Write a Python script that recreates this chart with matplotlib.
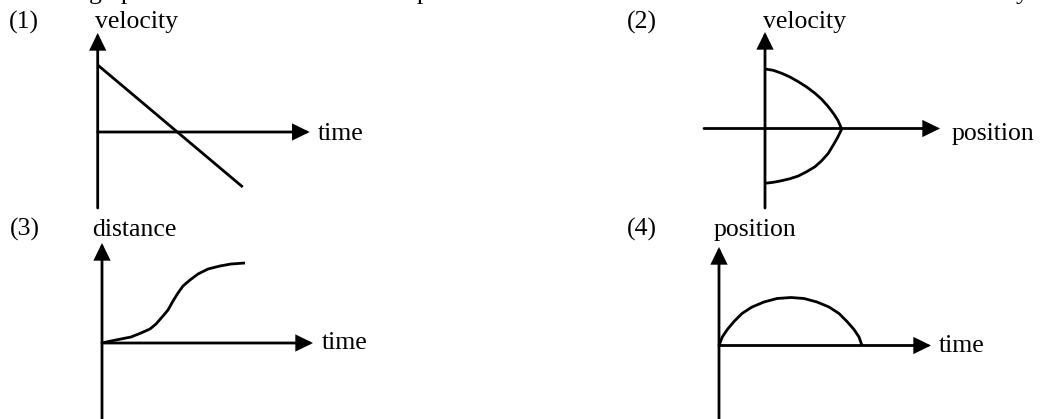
import matplotlib
matplotlib.use("Agg")
import matplotlib.pyplot as plt

plt.rcParams['font.family'] = ['Liberation Serif', 'DejaVu Serif']

W, H = 1040, 419
FS = 18.5
LW = 2.0

# ---- data (units relative to each panel's axis origin) ----
# (1) velocity vs time : straight line
p1_time = [0, 145]
p1_velocity = [67, -55]

# (2) velocity vs position
p2_pos_upper = [0, 8.3, 16.7, 25, 33.3, 41.7, 50, 56.7, 63.3, 68.3, 72.7, 76.7]
p2_vel_upper = [59.5, 58.2, 55.2, 51.5, 46.8, 41.5, 35.2, 29.2, 21.8, 15.2, 8.5, -0.5]
p2_pos_lower = [76.7, 72.7, 68.3, 63.3, 56.7, 50, 41.7, 33.3, 25, 16.7, 8.3, 0]
p2_vel_lower = [-0.5, -8.8, -16.5, -24.8, -32.2, -38.2, -43.2, -47.5, -50.2, -52.2, -53.8, -54.8]

# (3) distance vs time : S-curve
p3_time = [0, 9, 19, 29, 39, 48, 54, 61, 66, 71, 76, 81, 88, 96, 106, 118, 129, 143]
p3_distance = [0, 2, 4, 6, 10, 14, 19, 27, 33, 42, 50, 57, 63, 69, 74, 77, 79, 80]

# (4) position vs time : arch
p4_time = [0, 3.3, 8.3, 15, 23, 33, 45, 58, 72, 85, 98, 110, 120, 128, 135, 140, 143]
p4_position = [0, 8.5, 16, 24, 32, 38.5, 43.5, 47, 48, 47, 43.5, 38.5, 32, 24, 16, 8.5, 0]

panel_tags = ["(1)", "(2)", "(3)", "(4)"]
y_labels = ["velocity", "velocity", "distance", "position"]
x_labels = ["time", "position", "time", "time"]

# ---- layout (pixel positions of each panel's origin, axis extents) ----
origins = [(97.7, 132.0), (765.0, 128.5), (102.0, 343.0), (719.0, 345.5)]
x_axis_ext = [(0, 212), (-61, 175), (0, 211), (0, 212)]
y_axis_ext = [(-76, 99), (-79.5, 96.5), (-78, 100), (-75, 98.5)]
tag_pos = [(-88.7, 103.5), (-138, 100), (-92, 107), (-92, 109.5)]
ylab_pos = [(-2.7, 103.5), (-2, 100), (-10, 107), (-5, 109.5)]
xlab_pos = [(220.3, -8), (187, -11.5), (220, -6), (220, -6.5)]

XMIN, XMAX, YMIN, YMAX = -150, 280, -90, 120

fig = plt.figure(figsize=(W / 100, H / 100), dpi=100)
fig.patch.set_facecolor('white')

axes = []
for (ox, oy) in origins:
    left = (ox + XMIN) / W
    bottom = (H - (oy - YMIN)) / H
    ax = fig.add_axes([left, bottom, (XMAX - XMIN) / W, (YMAX - YMIN) / H])
    ax.set_xlim(XMIN, XMAX)
    ax.set_ylim(YMIN, YMAX)
    ax.axis('off')
    ax.patch.set_alpha(0)
    axes.append(ax)

arrow_kw = dict(arrowstyle='-|>,head_length=0.45,head_width=0.22',
                color='black', lw=LW, shrinkA=0, shrinkB=0,
                mutation_scale=21, joinstyle='miter')

for i, ax in enumerate(axes):
    x0, x1 = x_axis_ext[i]
    y0, y1 = y_axis_ext[i]
    ax.annotate('', xy=(x1, 0), xytext=(x0, 0), arrowprops=arrow_kw,
                annotation_clip=False)
    ax.annotate('', xy=(0, y1), xytext=(0, y0), arrowprops=arrow_kw,
                annotation_clip=False)
    ax.text(*tag_pos[i], panel_tags[i], fontsize=FS, ha='left', va='baseline')
    ax.text(*ylab_pos[i], y_labels[i], fontsize=FS, ha='left', va='baseline')
    ax.text(*xlab_pos[i], x_labels[i], fontsize=FS, ha='left', va='baseline')

line_kw = dict(color='black', lw=LW, clip_on=False,
               solid_capstyle='butt', solid_joinstyle='round')
axes[0].plot(p1_time, p1_velocity, **line_kw)
axes[1].plot(p2_pos_upper, p2_vel_upper, **line_kw)
axes[1].plot(p2_pos_lower, p2_vel_lower, **line_kw)
axes[2].plot(p3_time, p3_distance, **line_kw)
axes[3].plot(p4_time, p4_position, **line_kw)

# cut-off line of text at the very top (only descenders visible)
top_chars = ["g", "p", "p", "y"]
top_char_x = [89, 121, 417, 1016]
for ch, cx in zip(top_chars, top_char_x):
    fig.text(cx / W, (H + 1) / H, ch, fontsize=FS, ha='left', va='baseline')

fig.savefig('out.png', dpi=100, facecolor='white')
